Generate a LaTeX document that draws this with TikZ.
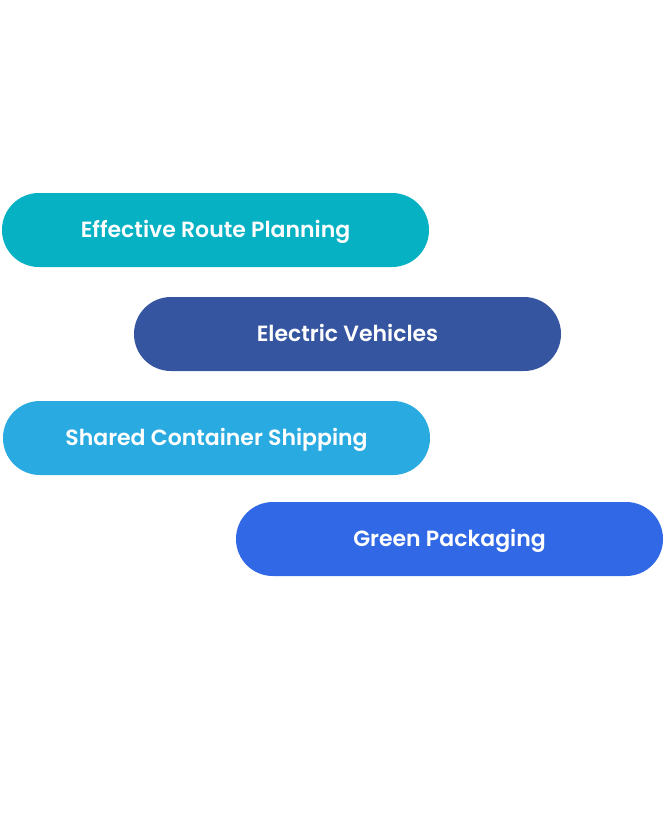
\documentclass[tikz,border=0pt]{standalone}
\usepackage{fontspec}
\setmainfont{Poppins}[BoldFont={Poppins SemiBold}]
\definecolor{pillTeal}{HTML}{06B1C3}
\definecolor{pillNavy}{HTML}{3555A0}
\definecolor{pillSky}{HTML}{29ABE2}
\definecolor{pillBlue}{HTML}{3068E6}
\tikzset{
	pill/.style={rectangle, rounded corners=36.9pt, minimum width=427pt, minimum height=74pt, inner sep=0pt, text height=15.4pt, text depth=0pt, text=white, font=\fontsize{22}{24}\selectfont\bfseries}
}
\begin{document}
\begin{tikzpicture}[x=1pt, y=-1pt]
		
		% Canvas
		\useasboundingbox (0,0) rectangle (665,813);
		
		% Pills
		\node (pillRoute) at (215.5,230) [pill, fill=pillTeal]{Effective Route Planning};
		\node (pillVehicles) at (347.5,334) [pill, fill=pillNavy]{Electric Vehicles};
		\node (pillShipping) at (216.5,438) [pill, fill=pillSky]{Shared Container Shipping};
		\node (pillPackaging) at (449.5,539) [pill, fill=pillBlue]{Green Packaging};
		
\end{tikzpicture}
\end{document}
